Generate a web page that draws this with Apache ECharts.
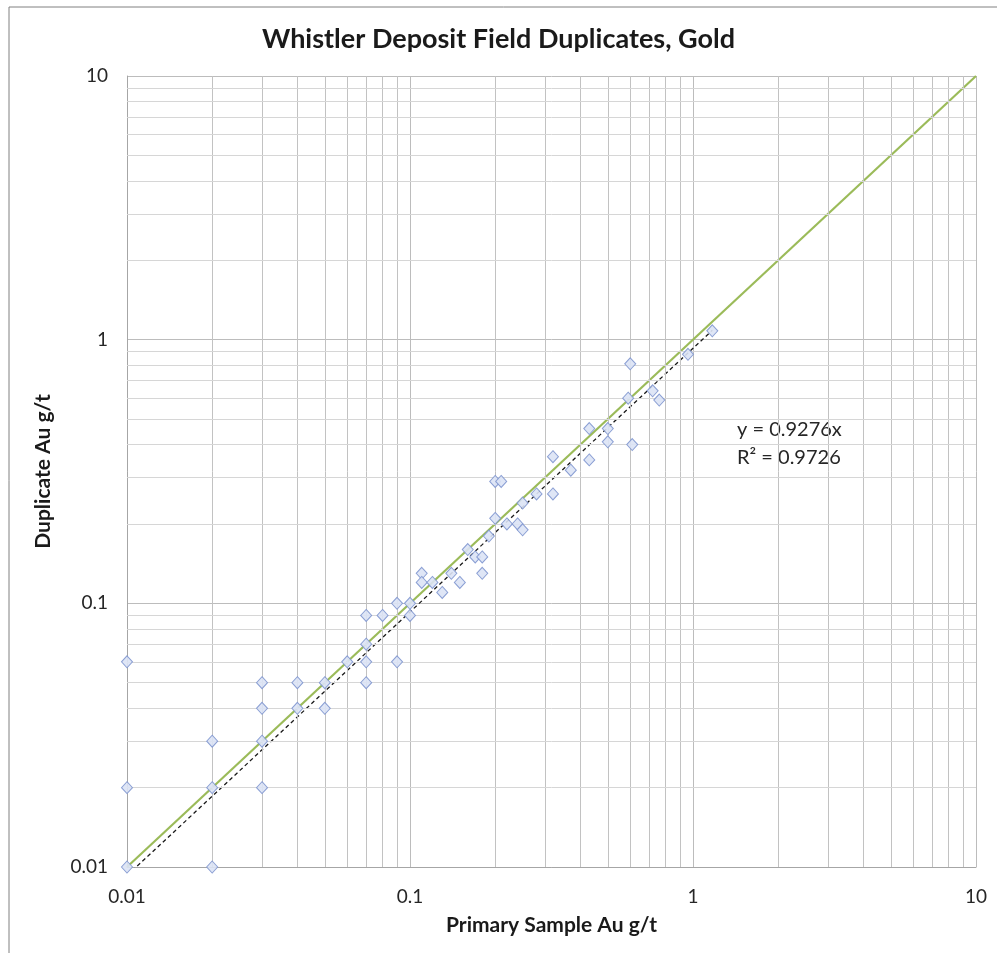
<!DOCTYPE html>
<html>
<head>
<meta charset="utf-8">
<script src="https://cdn.jsdelivr.net/npm/echarts@6/dist/echarts.min.js"></script>
<style>html,body{margin:0;padding:0;background:#fff;}#c{width:997px;height:953px;}</style>
</head>
<body>
<div id="c"></div>
<script>
var title = 'Whistler Deposit Field Duplicates, Gold';
var xTitle = 'Primary Sample Au g/t';
var yTitle = 'Duplicate Au g/t';
var axisMin = 0.01, axisMax = 10;
var primary = [0.01,0.01,0.01, 0.02,0.02,0.02, 0.03,0.03,0.03,0.03, 0.04,0.04, 0.05,0.05, 0.06,
  0.07,0.07,0.07,0.07, 0.08, 0.09,0.09, 0.1,0.1,
  0.11,0.11,0.12,0.13,0.14,0.15, 0.16,0.17,0.18,0.18,0.19,
  0.2,0.2,0.21,0.22,0.24,0.25,0.25,0.28,
  0.32,0.32,0.37,0.43,0.43,0.5,0.5,
  0.59,0.6,0.61,0.72,0.76, 0.96,1.17];
var duplicate = [0.01,0.02,0.06, 0.01,0.02,0.03, 0.02,0.03,0.04,0.05, 0.04,0.05, 0.04,0.05, 0.06,
  0.05,0.06,0.07,0.09, 0.09, 0.06,0.1, 0.09,0.1,
  0.13,0.12,0.12,0.11,0.13,0.12, 0.16,0.15,0.15,0.13,0.18,
  0.21,0.29,0.29,0.2,0.2,0.19,0.24,0.26,
  0.26,0.36,0.32,0.35,0.46,0.41,0.46,
  0.6,0.81,0.4,0.64,0.59, 0.88,1.08];
var slope = 0.9276;
var r2 = 0.9726;
var trendX = [0.01, 1.17];
var oneToOneX = [0.01, 10];

var pts = primary.map(function(v,i){return [v, duplicate[i]];});
var minorVals = [];
for (var d = axisMin; d < axisMax*0.999; d *= 10) {
  for (var k = 2; k <= 9; k++) minorVals.push(+(d*k).toPrecision(3));
}
var vLines = minorVals.map(function(v){return {xAxis: v};});
var hLines = minorVals.map(function(v){return {yAxis: v};});
var font = 'Lato, "Open Sans", sans-serif';

var chart = echarts.init(document.getElementById('c'), null, {renderer:'canvas'});
chart.setOption({
  animation: false,
  backgroundColor: '#fff',
  title: {text: title, left: 'center', top: 21,
    textStyle: {fontFamily: font, fontSize: 27, fontWeight: 'bold', color: '#1a1a1a'}},
  graphic: [
    {type:'rect', shape:{x:9, y:7, width:1000, height:960}, style:{fill:'none', stroke:'#808080', lineWidth:1}, z: 100, silent:true},
    {type:'text', left: 737, top: 420, style:{text:'y = ' + slope + 'x', font:'20px ' + font, fill:'#262626'}},
    {type:'text', left: 737, top: 448, style:{text:'R\u00b2 = ' + r2, font:'20px ' + font, fill:'#262626'}}
  ],
  grid: {left: 127, right: 21, top: 76, bottom: 86},
  xAxis: {type:'log', logBase:10, min: axisMin, max: axisMax,
    name: xTitle, nameLocation:'middle', nameGap: 48,
    nameTextStyle:{fontFamily: font, fontSize:21, fontWeight:'bold', color:'#1a1a1a'},
    axisLine:{show:true, lineStyle:{color:'#a6a6a6', width:1}},
    axisTick:{show:false},
    axisLabel:{fontFamily: font, fontSize:19, color:'#262626', margin: 20,
      formatter:function(v){return String(+v.toPrecision(3));}},
    splitLine:{show:true, lineStyle:{color:'#bcbcbc', width:1}}},
  yAxis: {type:'log', logBase:10, min: axisMin, max: axisMax,
    name: yTitle, nameLocation:'middle', nameGap: 73, nameRotate: 90,
    nameTextStyle:{fontFamily: font, fontSize:21, fontWeight:'bold', color:'#1a1a1a'},
    axisLine:{show:true, lineStyle:{color:'#a6a6a6', width:1}},
    axisTick:{show:false},
    axisLabel:{fontFamily: font, fontSize:19, color:'#262626', margin: 19,
      formatter:function(v){return String(+v.toPrecision(3));}},
    splitLine:{show:true, lineStyle:{color:'#bcbcbc', width:1}}},
  series: [
    {type:'line', data: [], silent:true, z:1,
      markLine:{silent:true, symbol:'none', label:{show:false}, animation:false,
        lineStyle:{color:'#c2c2c2', width:1, type:'solid'}, data: vLines}},
    {type:'line', data: [], silent:true, z:1,
      markLine:{silent:true, symbol:'none', label:{show:false}, animation:false,
        lineStyle:{color:'#d6d6d6', width:1, type:'solid'}, data: hLines}},
    {type:'line', name:'1:1', data: oneToOneX.map(function(x){return [x,x];}),
      showSymbol:false, symbol:'none', lineStyle:{color:'#9bbb59', width:2.2}, z:3, silent:true},
    {type:'line', name:'trend', data: trendX.map(function(x){return [x, slope*x];}),
      showSymbol:false, symbol:'none', clip:true, lineStyle:{color:'#1a1a1a', width:1.3, type:[4,3]}, z:4, silent:true},
    {type:'scatter', name:'Au', data: pts, symbol:'diamond', symbolSize:[11,12], z:5,
      itemStyle:{color:'#dbe3f5', borderColor:'#7f96cf', borderWidth:1, opacity:0.9}}
  ]
});
</script>
</body>
</html>
